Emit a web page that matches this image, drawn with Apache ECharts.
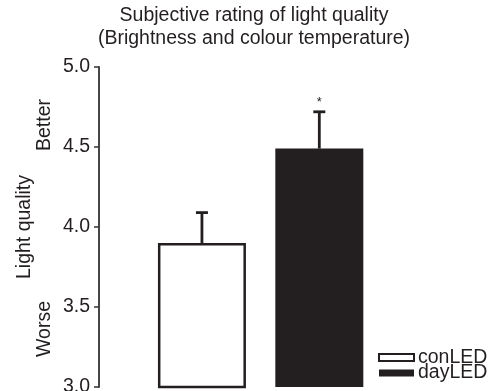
<!DOCTYPE html>
<html>
<head>
<meta charset="utf-8">
<script src="https://cdn.jsdelivr.net/npm/echarts@6/dist/echarts.min.js"></script>
<style>
html,body{margin:0;padding:0;background:#fff;}
#c{width:495px;height:391px;}
</style>
</head>
<body>
<div id="c"></div>
<script>
const categories = ['conLED', 'dayLED'];
const conLED = [3.90, '-'];
const dayLED = ['-', 4.49];
const errors = [0.19, 0.23];
const means = [3.90, 4.49];
const significance = ['', '*'];
const yTickLabels = ['3.0', '3.5', '4.0', '4.5', '5.0'];
const yMin = 3.0, yMax = 5.0, yStep = 0.5;

const FONT = 'Liberation Sans, Arial, Helvetica, sans-serif';
const INK = '#231f20';

const chart = echarts.init(document.getElementById('c'), null, {renderer: 'canvas'});

const errData = categories.map((c, i) => [i, means[i], errors[i], significance[i]]);

chart.setOption({
  animation: false,
  backgroundColor: '#fff',
  title: {
    text: 'Subjective rating of light quality\n(Brightness and colour temperature)',
    left: 254,
    textAlign: 'center',
    top: 4,
    padding: 0,
    textStyle: {fontFamily: FONT, fontSize: 19.5, fontWeight: 'normal', color: INK, lineHeight: 23}
  },
  grid: {left: 143.25, right: 117, top: 67, bottom: 4, containLabel: false, outerBoundsMode: 'none'},
  xAxis: {
    type: 'category',
    data: categories,
    axisLine: {show: false},
    axisTick: {show: false},
    axisLabel: {show: false}
  },
  yAxis: {
    type: 'value',
    min: yMin, max: yMax, interval: yStep,
    offset: 44.25,
    name: 'Light quality',
    nameLocation: 'middle',
    nameGap: 64,
    nameTextStyle: {fontFamily: FONT, fontSize: 19.5, color: INK},
    axisLine: {show: true, lineStyle: {color: '#333', width: 1.8}},
    axisTick: {show: true, length: 5, lineStyle: {color: '#333', width: 1.5}},
    splitLine: {show: false},
    axisLabel: {
      margin: 9,
      fontFamily: FONT, fontSize: 19.5, color: INK,
      formatter: function (v) {
        const idx = Math.round((v - yMin) / yStep);
        return yTickLabels[idx] !== undefined ? yTickLabels[idx] : '';
      }
    }
  },
  legend: {
    orient: 'vertical',
    left: 378,
    top: 347.5,
    padding: 0,
    itemGap: -4.5,
    itemWidth: 35,
    itemHeight: 7,
    icon: 'rect',
    textStyle: {fontFamily: FONT, fontSize: 19.5, color: INK, padding: [0, 0, 0, -1]},
    data: [
      {name: 'conLED', itemStyle: {color: '#fff', borderColor: INK, borderWidth: 2}},
      {name: 'dayLED', itemStyle: {color: INK, borderColor: INK, borderWidth: 0}}
    ]
  },
  graphic: [
    {type: 'text', x: 45, y: 125, rotation: Math.PI / 2,
     style: {text: 'Better', fontFamily: FONT, fontSize: 19.5, fill: INK, align: 'center', verticalAlign: 'middle'}},
    {type: 'text', x: 45, y: 329, rotation: Math.PI / 2,
     style: {text: 'Worse', fontFamily: FONT, fontSize: 19.5, fill: INK, align: 'center', verticalAlign: 'middle'}}
  ],
  series: [
    {
      name: 'conLED', type: 'bar', data: conLED,
      barWidth: 88, barGap: '-100%',
      itemStyle: {color: '#fff', borderColor: INK, borderWidth: 2.5}
    },
    {
      name: 'dayLED', type: 'bar', data: dayLED,
      barWidth: 88, barGap: '-100%',
      itemStyle: {color: INK, borderColor: INK, borderWidth: 0}
    },
    {
      name: 'error', type: 'custom', data: errData, z: 10,
      renderItem: function (params, api) {
        const x = api.value(0);
        const m = api.value(1);
        const e = api.value(2);
        const s = api.value(3);
        const p0 = api.coord([x, m]);
        const p1 = api.coord([x, m + e]);
        const half = 6;
        const style = {stroke: INK, lineWidth: 2.8, fill: null};
        const children = [
          {type: 'line', shape: {x1: p0[0], y1: p0[1], x2: p1[0], y2: p1[1]}, style: style},
          {type: 'line', shape: {x1: p1[0] - half, y1: p1[1], x2: p1[0] + half, y2: p1[1]}, style: style}
        ];
        if (s) {
          children.push({type: 'text', x: p1[0], y: p1[1] - 9,
            style: {text: s, fontFamily: FONT, fontSize: 13, fill: INK, align: 'center', verticalAlign: 'middle'}});
        }
        return {type: 'group', children: children};
      }
    }
  ]
});
</script>
</body>
</html>
